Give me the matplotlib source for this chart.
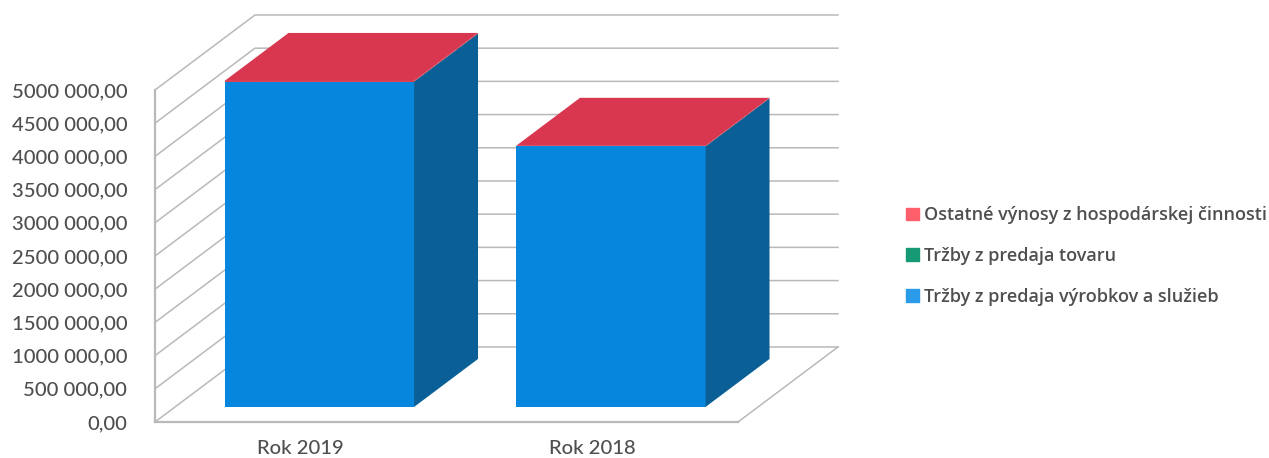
import matplotlib
matplotlib.use("Agg")
import matplotlib.pyplot as plt
from matplotlib.patches import Patch

plt.rcParams['font.family'] = ['Lato', 'DejaVu Sans']

# data
years = ["Rok 2019", "Rok 2018"]
sluzby = [4900000, 3925000]
tovar = [0, 0]
ostatne = [10000, 8000]
series_names = ["Ostatné výnosy z hospodárskej činnosti",
                "Tržby z predaja tovaru",
                "Tržby z predaja výrobkov a služieb"]
yticks = [0, 500000, 1000000, 1500000, 2000000, 2500000,
          3000000, 3500000, 4000000, 4500000, 5000000]
ytick_labels = ["0,00", "500 000,00", "1000 000,00", "1500 000,00", "2000 000,00",
                "2500 000,00", "3000 000,00", "3500 000,00", "4000 000,00",
                "4500 000,00", "5000 000,00"]

GRID = "#b9b9b9"
TEXT = "#4f4f4f"

# 3D look: full depth of the box, in axis units
DEPTH_X = 0.343
DEPTH_Y = 1130000
BAR_W = 0.65
BAR_SHIFT = -0.005
BAR_FRONT = 0.2
BAR_BACK = 0.84


def proj(x, v, d):
    return x + d*DEPTH_X, v + d*DEPTH_Y


def face(ax, pts, color, z):
    xs = [proj(*p)[0] for p in pts]
    ys = [proj(*p)[1] for p in pts]
    ax.fill(xs, ys, color=color, lw=0, zorder=z, clip_on=False)


fig = plt.figure(figsize=(12.69, 4.58), dpi=100)
ax = fig.add_axes([155/1269, 1 - 422/458, 583/1269, 332/458])
ax.set_xlim(0, 2)
ax.set_ylim(0, 5000000)

# gridlines: side wall and back wall
for v in yticks:
    x0, y0 = proj(0, v, 0)
    x1, y1 = proj(0, v, 1)
    x2, y2 = proj(2, v, 1)
    ax.plot([x0, x1, x2], [y0, y1, y2], color=GRID, lw=1.1, zorder=1, clip_on=False)

# floor edge on the right
x0, y0 = proj(2, 0, 0)
x1, y1 = proj(2, 0, 1)
ax.plot([x0, x1], [y0, y1], color=GRID, lw=1.1, zorder=1, clip_on=False)

front_cols = ["#0786de", "#12906c", "#e2404f"]
side_cols = ["#0a6096", "#0c6a50", "#a8303f"]
top_col = "#d9364f"

for i in range(len(years)):
    left = i + 0.5 + BAR_SHIFT - BAR_W/2
    right = i + 0.5 + BAR_SHIFT + BAR_W/2
    base = 0
    for vals, fc, sc in zip([sluzby, tovar, ostatne], front_cols, side_cols):
        h = vals[i]
        if h > 0:
            face(ax, [(left, base, BAR_FRONT), (right, base, BAR_FRONT),
                      (right, base+h, BAR_FRONT), (left, base+h, BAR_FRONT)], fc, 3)
            face(ax, [(right, base, BAR_FRONT), (right, base, BAR_BACK),
                      (right, base+h, BAR_BACK), (right, base+h, BAR_FRONT)], sc, 3)
        base += h
    face(ax, [(left, base, BAR_FRONT), (right, base, BAR_FRONT),
              (right, base, BAR_BACK), (left, base, BAR_BACK)], top_col, 3)

ax.set_yticks(yticks)
ax.set_yticklabels(ytick_labels)
ax.set_xticks([0.5, 1.5])
ax.set_xticklabels(years)
ax.tick_params(axis='y', length=0, pad=20, labelsize=14.6, labelcolor=TEXT)
ax.tick_params(axis='x', length=0, pad=13, labelsize=14.6, labelcolor=TEXT)
for s in ['top', 'right']:
    ax.spines[s].set_visible(False)
for s in ['left', 'bottom']:
    ax.spines[s].set_color(GRID)
    ax.spines[s].set_linewidth(1.6)
ax.patch.set_alpha(0)
for t in ax.get_xticklabels() + ax.get_yticklabels():
    t.set_fontweight(500)

handles = [Patch(color="#ff5f6b"), Patch(color="#159a75"), Patch(color="#2a9be8")]
leg = fig.legend(handles, series_names, loc='center left',
                 bbox_to_anchor=(906/1269, 1 - 256/458), frameon=False,
                 prop={'family': ['Open Sans', 'DejaVu Sans'], 'size': 13, 'weight': 600},
                 labelcolor=TEXT, handlelength=0.7, handleheight=0.7,
                 handletextpad=0.32, labelspacing=1.25, borderpad=0, borderaxespad=0)

fig.savefig("out.png", dpi=100)
